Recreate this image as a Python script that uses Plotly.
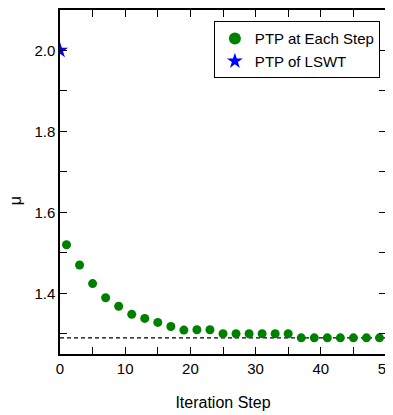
import plotly.graph_objects as go

# Data
steps = [1, 3, 5, 7, 9, 11, 13, 15, 17, 19, 21, 23, 25, 27, 29, 31, 33, 35, 37, 39, 41, 43, 45, 47, 49]
ptp_each = [1.52, 1.47, 1.424, 1.389, 1.368, 1.348, 1.338, 1.328, 1.318, 1.309, 1.31, 1.31,
            1.30, 1.30, 1.30, 1.30, 1.30, 1.30, 1.29, 1.29, 1.29, 1.29, 1.29, 1.29, 1.29]
lswt_step = [0]
lswt_value = [2.0]
converged_value = 1.29

x_ticks = [0, 10, 20, 30, 40, 50]
y_ticks = [1.4, 1.6, 1.8, 2.0]

FONT = "Liberation Sans, Arial, sans-serif"

fig = go.Figure()
fig.add_hline(y=converged_value, line=dict(color="black", width=1.2, dash="4px,3px"), layer="below")
fig.add_trace(go.Scatter(
    x=steps, y=ptp_each, mode="markers", name="PTP at Each Step",
    marker=dict(color="#008000", size=9, symbol="circle"),
))
fig.add_trace(go.Scatter(
    x=lswt_step, y=lswt_value, mode="markers", name="PTP of LSWT",
    marker=dict(color="#0000ff", size=12, symbol="star"), cliponaxis=True,
))

axis_common = dict(
    showgrid=False, zeroline=False, showline=True, linecolor="black", linewidth=1.5,
    mirror="ticks", ticks="inside", ticklen=7, tickwidth=1.2, tickcolor="black",
    tickfont=dict(family=FONT, size=15, color="black"), ticklabeloverflow="allow",
)

fig.update_xaxes(
    **axis_common, range=[0, 50], tickvals=x_ticks,
    minor=dict(dtick=5, ticks="inside", ticklen=7, tickwidth=1.2, tickcolor="black"),
    title=dict(text="Iteration Step", font=dict(family=FONT, size=16, color="black"), standoff=21),
)
fig.update_yaxes(
    **axis_common, range=[1.25, 2.1], tickvals=y_ticks, tickformat=".1f",
    minor=dict(dtick=0.1, tick0=1.3, ticks="inside", ticklen=7, tickwidth=1.2, tickcolor="black"),
)

fig.add_annotation(
    text="μ", xref="paper", yref="paper", x=-0.138, y=0.444,
    xanchor="center", yanchor="middle", textangle=-90, showarrow=False,
    font=dict(family=FONT, size=16, color="black"),
)

fig.update_layout(
    width=385, height=407,
    margin=dict(l=52, r=7, t=2, b=61, autoexpand=False),
    plot_bgcolor="white", paper_bgcolor="white",
    legend=dict(
        x=0.472, y=0.967, xanchor="left", yanchor="top",
        bordercolor="black", borderwidth=1, bgcolor="white",
        font=dict(family=FONT, size=15, color="black"),
        itemsizing="constant", tracegroupgap=0,
    ),
    showlegend=True,
)

fig.write_html("out.html")
